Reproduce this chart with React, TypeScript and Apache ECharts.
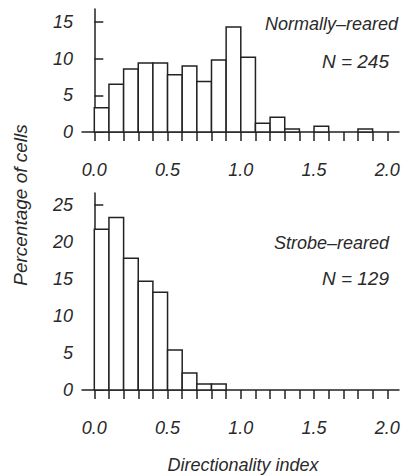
import React, { useEffect, useRef } from "react";
import * as echarts from "echarts";

// Bin left edges (directionality index), bin width 0.1
const binStarts = [0.0, 0.1, 0.2, 0.3, 0.4, 0.5, 0.6, 0.7, 0.8, 0.9, 1.0, 1.1, 1.2, 1.3, 1.4, 1.5, 1.6, 1.7, 1.8, 1.9];
const binWidth = 0.1;

// Percentage of cells per bin
const normalValues = [3.3, 6.5, 8.6, 9.4, 9.4, 7.8, 9.0, 6.9, 9.8, 14.3, 10.2, 1.2, 2.0, 0.4, 0, 0.8, 0, 0, 0.4, 0];
const strobeValues = [21.7, 23.3, 17.8, 14.7, 13.2, 5.4, 2.3, 0.8, 0.8, 0, 0, 0, 0, 0, 0, 0, 0, 0, 0, 0];

const xMinorTicks = [0.0, 0.1, 0.2, 0.3, 0.4, 0.5, 0.6, 0.7, 0.8, 0.9, 1.0, 1.1, 1.2, 1.3, 1.4, 1.5, 1.6, 1.7, 1.8, 1.9, 2.0];
const xTickLabels = [0.0, 0.5, 1.0, 1.5, 2.0];
const yTicksTop = [0, 5, 10, 15];
const yTicksBottom = [0, 5, 10, 15, 20, 25];

const FONT = "'Liberation Sans', Arial, sans-serif";
const INK = "#222";
const TEXT = "#2a2a2a";

export default function App() {
  const ref = useRef<HTMLDivElement>(null);

  useEffect(() => {
    if (!ref.current) return;
    const chart = echarts.init(ref.current, null, { renderer: "svg" });

    const renderBar = (params: any, api: any) => {
      const x0 = api.value(0);
      const v = api.value(1);
      if (!v) return null;
      const p0 = api.coord([x0, 0]);
      const p1 = api.coord([x0 + binWidth, v]);
      return {
        type: "rect",
        shape: { x: p0[0], y: p1[1], width: p1[0] - p0[0], height: p0[1] - p1[1] },
        style: { fill: "#fff", stroke: INK, lineWidth: 1.5 },
      };
    };

    const xAxisBase = (gridIndex: number) => ({
      type: "value",
      gridIndex,
      min: -0.084,
      max: 2.08,
      axisLine: { show: true, lineStyle: { color: INK, width: 1.5 } },
      axisTick: { show: true, customValues: xMinorTicks, length: 9, inside: false, lineStyle: { color: INK, width: 1.5 } },
      axisLabel: {
        show: true,
        customValues: xTickLabels,
        formatter: (v: number) => v.toFixed(1),
        fontFamily: FONT,
        fontStyle: "italic",
        fontSize: 18,
        color: TEXT,
        margin: 29,
      },
      splitLine: { show: false },
    });

    const yAxisBase = (gridIndex: number, max: number, ticks: number[]) => ({
      type: "value",
      gridIndex,
      min: 0,
      max,
      axisLine: { show: true, lineStyle: { color: INK, width: 1.5 } },
      axisTick: { show: true, customValues: ticks, length: 9, inside: true, lineStyle: { color: INK, width: 1.5 } },
      axisLabel: {
        show: true,
        customValues: ticks,
        fontFamily: FONT,
        fontStyle: "italic",
        fontSize: 18,
        color: TEXT,
        margin: 9,
      },
      splitLine: { show: false },
    });

    const textStyle = (text: string, x: number, y: number, align: string = "right", size: number = 18) => ({
      type: "text",
      x,
      y,
      style: {
        text,
        fontFamily: FONT,
        fontStyle: "italic",
        fontSize: size,
        fill: TEXT,
        align,
        verticalAlign: "middle",
      },
    });

    chart.setOption({
      animation: false,
      backgroundColor: "#fff",
      grid: [
        { left: 82, top: 9, width: 317, height: 123 },
        { left: 82, top: 193, width: 317, height: 197 },
      ],
      xAxis: [xAxisBase(0), xAxisBase(1)],
      yAxis: [yAxisBase(0, 16.77, yTicksTop), yAxisBase(1, 26.6, yTicksBottom)],
      series: [
        {
          type: "custom",
          xAxisIndex: 0,
          yAxisIndex: 0,
          renderItem: renderBar,
          data: binStarts.map((b, i) => [b, normalValues[i]]),
        },
        {
          type: "custom",
          xAxisIndex: 1,
          yAxisIndex: 1,
          renderItem: renderBar,
          data: binStarts.map((b, i) => [b, strobeValues[i]]),
        },
      ],
      graphic: [
        textStyle("Normally–reared", 398, 24),
        textStyle("N = 245", 389, 61, "right", 19),
        textStyle("Strobe–reared", 389, 243),
        textStyle("N = 129", 389, 278, "right", 19),
        textStyle("Directionality index", 243, 465, "center"),
        {
          type: "text",
          x: 20,
          y: 205,
          rotation: Math.PI / 2,
          style: {
            text: "Percentage of cells",
            fontFamily: FONT,
            fontStyle: "italic",
            fontSize: 19,
            fill: TEXT,
            align: "center",
            verticalAlign: "middle",
          },
        },
      ],
    });

    return () => chart.dispose();
  }, []);

  return (
    <div
      ref={ref}
      style={{ position: "fixed", left: 0, top: 0, width: 409, height: 475 }}
    />
  );
}
